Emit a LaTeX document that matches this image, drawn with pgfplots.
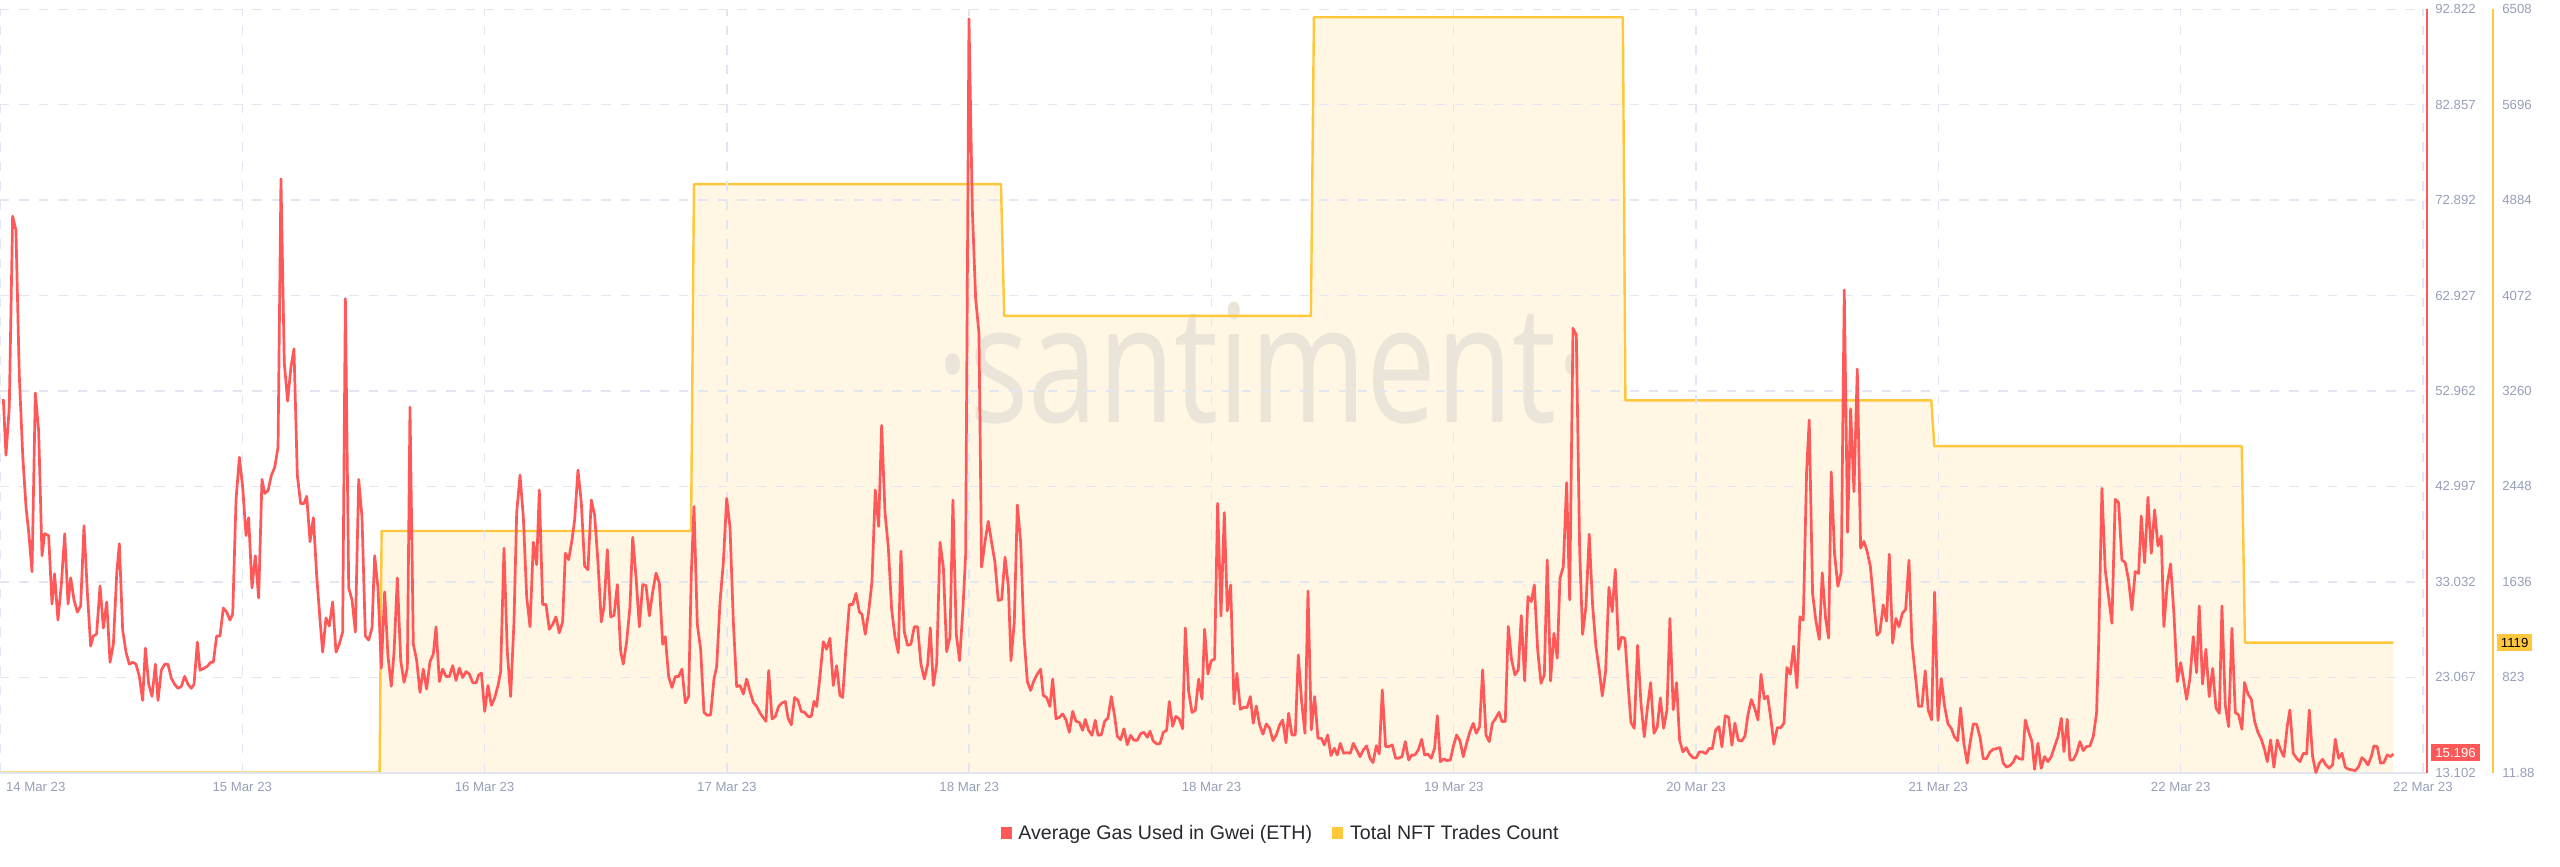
\documentclass[border=0pt]{standalone}
\usepackage{fontspec}
\setmainfont{Liberation Sans}
\newfontfamily\wmfont{Open Sans}
\usepackage{graphicx}
\usepackage{pgfplots}
\pgfplotsset{compat=1.18}
\usetikzlibrary{calc}
\definecolor{redc}{RGB}{255,88,88}
\definecolor{yelc}{RGB}{255,199,60}
\definecolor{creamc}{RGB}{255,246,227}
\definecolor{gridc}{RGB}{226,229,242}
\definecolor{tickc}{RGB}{150,159,184}
\definecolor{basec}{RGB}{226,229,238}
\definecolor{wmc}{RGB}{234,229,216}
\definecolor{legc}{RGB}{40,40,46}
\begin{document}
\begin{tikzpicture}
\pgfplotsset{
  base/.style={scale only axis, width=1213.5pt, height=381.7pt, xmin=0, xmax=240.4,
    clip=false, axis line style={draw=none}, major tick length=0pt, tick style={draw=none},
    tick label style={font=\fontsize{6.6}{8}\selectfont, text=tickc},
    ytick pos=right, yticklabel pos=right},
}
\begin{axis}[base, name=yel, ymin=11.88, ymax=6508, xtick=\empty,
  ytick={11.88,823.895,1635.91,2447.925,3259.94,4071.955,4883.97,5695.985,6508},
  yticklabels={11.88,823,1636,2448,3260,4072,4884,5696,6508},
  yticklabel style={anchor=west, inner sep=0pt, xshift=37.5pt}]
\addplot[fill=creamc, draw=none] coordinates {(37.6,11.88) (37.8,2069) (68.45,2069) (68.74,5020) (99.15,5020) (99.47,3899) (129.85,3899) (130.15,6440) (160.75,6440) (161.0,3180) (191.3,3180) (191.6,2791) (222.05,2791) (222.37,1119) (237.06,1119) (237.06,11.88)};
\node[anchor=base, text=wmc, inner sep=0pt] at (axis cs:125.1,2996) {\scalebox{0.76}[1]{\wmfont\fontsize{82}{82}\selectfont ·santiment·}};
\addplot[yelc, line width=1.2pt, line join=round] coordinates {(0,11.88) (37.6,11.88) (37.8,2069) (68.45,2069) (68.74,5020) (99.15,5020) (99.47,3899) (129.85,3899) (130.15,6440) (160.75,6440) (161.0,3180) (191.3,3180) (191.6,2791) (222.05,2791) (222.37,1119) (237.06,1119)};
\draw[yelc, line width=1pt] ([xshift=33pt]rel axis cs:1,0) -- ([xshift=33pt]rel axis cs:1,1);
\node[fill=yelc, text=black, inner xsep=1.8pt, inner ysep=2pt, anchor=west, font=\fontsize{6.6}{8}\selectfont] at ([xshift=35pt]axis cs:240.4,1119) {1119};
\end{axis}
\begin{axis}[base, name=main, ymin=13.102, ymax=92.822,
  xtick={0,24,...,240},
  xticklabels={{\makebox[0pt][l]{\hspace*{3pt}14 Mar 23}},15 Mar 23,16 Mar 23,17 Mar 23,18 Mar 23,18 Mar 23,19 Mar 23,20 Mar 23,21 Mar 23,22 Mar 23,22 Mar 23},
  xticklabel style={anchor=center, inner sep=0pt, yshift=-7pt},
  ytick={13.102,23.067,33.032,42.997,52.962,62.927,72.892,82.857,92.822},
  yticklabels={13.102,23.067,33.032,42.997,52.962,62.927,72.892,82.857,92.822},
  yticklabel style={anchor=west, inner sep=0pt, xshift=4pt},
  grid=major, major grid style={gridc, line width=0.7pt, dash pattern=on 4.7pt off 5pt}]
\draw[basec, line width=1pt] (rel axis cs:0,0) -- (rel axis cs:1,0);
\draw[redc, line width=1pt] (rel axis cs:1,0) -- (rel axis cs:1,1);
\addplot[redc, line width=1.35pt, line join=round] coordinates {
(0.33,52.12) (0.59,46.25) (0.92,51.28) (1.25,71.21) (1.58,69.74) (1.91,54.64) (2.25,46.25) (2.58,40.79) (2.84,38.27) (3.17,34.08) (3.50,52.75) (3.83,48.76) (4.16,35.76) (4.42,38.06) (4.82,37.86) (5.15,30.72) (5.41,33.87) (5.74,29.04) (6.08,32.82) (6.41,38.06) (6.74,30.72) (7.00,33.45) (7.33,31.14) (7.66,29.88) (7.99,30.51) (8.32,38.90) (8.65,31.98) (8.98,26.32) (9.24,27.37) (9.57,27.58) (9.91,32.61) (10.24,28.21) (10.57,30.93) (10.90,24.64) (11.23,26.53) (11.56,33.87) (11.82,37.02) (12.15,28.00) (12.48,25.69) (12.81,24.43) (13.14,24.64) (13.47,24.43) (13.80,23.17) (14.13,20.65) (14.40,26.11) (14.73,22.33) (15.06,21.07) (15.39,24.43) (15.65,20.65) (15.98,23.80) (16.31,24.43) (16.64,24.43) (16.97,22.96) (17.30,22.33) (17.63,21.91) (17.96,22.12) (18.29,23.17) (18.62,22.33) (18.95,21.91) (19.22,22.33) (19.55,26.74) (19.81,23.80) (20.21,24.01) (20.54,24.22) (20.87,24.64) (21.13,24.64) (21.46,27.37) (21.79,27.37) (22.12,30.30) (22.45,29.88) (22.78,29.04) (23.05,29.67) (23.38,41.63) (23.71,46.04) (24.04,42.89) (24.37,37.86) (24.63,39.74) (24.96,32.40) (25.29,35.76) (25.62,31.35) (25.95,43.73) (26.22,42.26) (26.55,42.55) (26.88,44.15) (27.21,44.99) (27.54,47.08) (27.83,75.11) (28.16,55.89) (28.49,51.91) (28.82,55.47) (29.12,57.36) (29.45,44.15) (29.78,41.21) (30.11,41.21) (30.38,41.97) (30.71,37.23) (31.04,39.74) (31.37,33.66) (31.70,29.04) (31.96,25.69) (32.29,29.26) (32.62,28.42) (32.95,30.93) (33.28,25.69) (33.61,26.53) (33.94,27.79) (34.21,62.61) (34.54,32.40) (34.87,31.14) (35.20,27.79) (35.53,43.73) (35.86,39.74) (36.19,27.37) (36.52,26.95) (36.85,28.21) (37.11,35.76) (37.44,32.40) (37.77,24.01) (38.10,31.98) (38.43,25.27) (38.76,22.12) (39.03,25.69) (39.36,33.45) (39.69,24.85) (40.02,22.54) (40.35,24.01) (40.61,51.28) (40.94,26.53) (41.27,24.85) (41.60,21.49)
(41.93,23.92) (42.26,21.84) (42.59,24.70) (42.92,25.48) (43.19,28.34) (43.52,22.62) (43.85,23.92) (44.18,23.14) (44.51,23.14) (44.84,24.28) (45.17,22.73) (45.50,24.03) (45.83,23.04) (46.16,23.66) (46.49,23.40) (46.82,22.52) (47.15,22.47) (47.41,23.30) (47.68,23.51) (48.01,19.50) (48.34,22.21) (48.67,20.13) (49.00,20.91) (49.33,22.21) (49.59,23.66) (49.92,36.54) (50.25,25.74) (50.58,21.06) (50.91,28.85) (51.18,40.28) (51.51,44.18) (51.84,39.76) (52.17,31.45) (52.50,28.34) (52.83,37.17) (53.16,34.83) (53.42,42.62) (53.75,30.67) (54.08,30.67) (54.41,28.08) (54.74,28.59) (55.07,29.37) (55.40,27.71) (55.73,28.85) (56.00,36.02) (56.33,35.35) (56.66,37.43) (56.92,39.50) (57.25,44.70) (57.58,41.32) (57.91,34.67) (58.24,34.31) (58.57,41.58) (58.90,40.02) (59.23,35.09) (59.56,28.85) (59.83,30.41) (60.16,36.39) (60.49,29.37) (60.82,29.53) (61.15,32.75) (61.48,25.74) (61.74,24.44) (62.07,26.78) (62.40,30.41) (62.67,37.69) (63.00,33.53) (63.33,28.34) (63.66,32.75) (63.99,32.65) (64.32,29.48) (64.65,31.97) (64.98,33.95) (65.31,32.91) (65.64,26.52) (65.90,27.30) (66.23,23.14) (66.56,22.00) (66.89,23.14) (67.22,23.14) (67.55,23.92) (67.88,20.39) (68.21,21.06) (68.48,34.05) (68.74,40.91) (69.07,28.59) (69.40,26.00) (69.73,19.40) (70.06,19.09) (70.39,19.14) (70.72,22.88) (70.99,24.18) (71.32,30.93) (71.65,35.09) (71.98,41.74) (72.31,38.73) (72.64,28.85) (72.97,22.10) (73.30,22.21) (73.63,21.32) (73.96,22.88) (74.29,21.58) (74.62,20.44) (74.95,20.02) (75.28,19.35) (75.61,18.83) (75.87,18.47) (76.14,23.77) (76.47,18.72) (76.80,18.98) (77.13,20.02) (77.46,20.39) (77.79,20.54) (78.05,18.83) (78.38,18.10) (78.71,20.96) (79.04,20.65) (79.37,19.50) (79.70,19.40) (80.03,18.98) (80.36,18.98) (80.63,20.54) (80.89,20.02) (81.22,23.14)
(81.55,26.78) (81.88,26.00) (82.21,27.14) (82.54,22.21) (82.87,24.28) (83.20,21.17) (83.47,20.96) (83.80,26.26) (84.13,30.67) (84.46,30.67) (84.79,31.82) (85.12,29.89) (85.38,29.64) (85.71,27.56) (86.04,29.89) (86.37,33.01) (86.70,42.62) (87.03,38.83) (87.33,49.38) (87.66,40.28) (87.99,36.65) (88.32,30.15) (88.65,27.30) (88.98,25.63) (89.24,36.23) (89.57,27.82) (89.90,26.41) (90.23,26.52) (90.56,28.34) (90.89,28.34) (91.22,24.44) (91.56,22.88) (91.89,24.44) (92.15,28.23) (92.45,22.21) (92.78,24.44) (93.11,37.17) (93.44,34.57) (93.77,25.74) (94.10,27.30) (94.39,41.58) (94.72,27.56) (95.05,24.80) (95.39,30.41) (95.65,35.87) (95.98,91.82) (96.31,71.97) (96.64,62.62) (96.97,58.99) (97.23,34.57) (97.56,37.17) (97.89,39.35) (98.22,37.17) (98.55,35.09) (98.88,31.09) (99.22,31.19) (99.55,35.61) (99.88,32.59) (100.14,24.80) (100.47,28.85) (100.77,41.06) (101.10,37.17) (101.43,27.30) (101.76,22.62) (102.09,21.69) (102.42,22.73) (102.75,23.40) (103.08,23.92) (103.34,21.17) (103.67,20.96) (104.00,20.02) (104.27,22.88) (104.60,18.72) (104.93,18.88) (105.26,19.24) (105.59,18.62) (105.92,17.32) (106.25,19.50) (106.58,18.47) (106.91,18.36) (107.24,17.53) (107.50,18.67) (107.83,17.53) (108.16,17.01) (108.49,18.57) (108.76,17.01) (109.09,17.06) (109.42,18.47) (109.75,18.83) (110.08,21.06) (110.41,18.98) (110.67,16.91) (111.00,16.54) (111.33,17.69) (111.66,16.02) (111.99,17.01) (112.32,16.49) (112.65,16.49) (112.98,17.17) (113.31,17.32) (113.64,16.80) (113.91,17.43) (114.24,16.39) (114.57,16.13) (114.90,16.13) (115.23,17.32) (115.56,17.53) (115.82,20.54) (116.15,17.95) (116.48,18.98) (116.81,18.72) (117.14,17.69) (117.41,28.23) (117.74,21.58) (118.07,19.40) (118.40,19.61) (118.73,22.88) (119.06,20.80) (119.32,28.08) (119.65,23.40) (119.98,24.80) (120.31,24.96)
(120.61,41.23) (120.94,29.47) (121.27,40.26) (121.57,29.99) (121.90,32.71) (122.23,20.28) (122.52,23.48) (122.86,19.72) (123.19,19.93) (123.52,19.90) (123.85,21.05) (124.14,18.26) (124.44,20.07) (124.77,18.09) (125.10,17.12) (125.43,18.19) (125.76,17.74) (126.09,16.45) (126.42,17.04) (126.75,18.09) (127.05,18.61) (127.38,16.24) (127.64,19.31) (127.97,17.04) (128.30,17.04) (128.60,25.40) (128.93,20.52) (129.26,17.22) (129.56,32.08) (129.89,17.57) (130.22,21.05) (130.55,16.70) (130.88,16.70) (131.18,16.00) (131.51,17.04) (131.84,14.89) (132.17,15.65) (132.46,14.96) (132.76,16.17) (133.09,15.13) (133.42,15.20) (133.75,15.13) (134.05,16.17) (134.38,15.48) (134.71,14.78) (135.04,15.48) (135.37,15.90) (135.70,14.61) (136.00,14.16) (136.33,15.93) (136.62,15.06) (136.92,21.74) (137.25,15.83) (137.58,15.83) (137.91,16.00) (138.24,14.61) (138.54,14.61) (138.87,14.78) (139.20,16.35) (139.53,14.43) (139.86,14.96) (140.16,14.96) (140.49,15.48) (140.82,16.59) (141.11,14.96) (141.44,15.06) (141.77,14.61) (142.10,15.65) (142.37,19.06) (142.67,14.26) (143.00,14.54) (143.33,14.36) (143.66,14.43) (143.95,15.83) (144.28,17.04) (144.61,16.45) (144.94,14.78) (145.27,16.17) (145.60,17.39) (145.93,18.26) (146.23,17.22) (146.56,17.91) (146.86,23.83) (147.19,17.04) (147.52,16.35) (147.82,18.26) (148.15,18.78) (148.48,19.41) (148.77,18.44) (149.10,18.44) (149.40,28.36) (149.73,24.88) (150.06,23.31) (150.39,23.83) (150.69,29.51) (151.02,22.68) (151.35,31.49) (151.68,30.97) (151.98,32.71) (152.31,25.92) (152.64,22.44) (152.97,23.31) (153.26,35.32) (153.59,22.68) (153.92,27.66) (154.25,25.05) (154.52,33.40) (154.85,34.62) (155.18,43.39) (155.48,31.14) (155.81,59.51) (156.14,58.81) (156.47,36.36) (156.76,27.56) (157.09,30.44) (157.42,38.00) (157.75,30.62) (158.08,26.27) (158.41,23.83) (158.71,21.12) (159.04,23.66) (159.37,32.46) (159.70,29.92) (160.00,34.34) (160.33,25.99)
(160.63,27.27) (160.96,27.09) (161.29,21.97) (161.55,18.34) (161.88,17.74) (162.21,26.39) (162.54,20.39) (162.87,16.85) (163.20,20.03) (163.50,22.50) (163.83,17.21) (164.16,17.91) (164.46,20.91) (164.79,17.74) (165.12,19.68) (165.41,29.21) (165.74,19.68) (166.07,22.50) (166.37,16.50) (166.70,15.27) (167.03,15.72) (167.36,15.02) (167.69,14.67) (167.99,14.63) (168.32,15.27) (168.65,15.27) (168.98,15.09) (169.28,15.62) (169.61,15.62) (169.94,17.56) (170.27,17.91) (170.56,15.80) (170.89,19.04) (171.22,18.90) (171.55,15.97) (171.85,18.27) (172.18,16.50) (172.51,16.40) (172.84,16.92) (173.14,19.15) (173.47,20.74) (173.80,19.85) (174.13,18.62) (174.43,23.38) (174.76,20.81) (175.09,21.09) (175.42,18.62) (175.71,16.08) (176.05,17.81) (176.38,17.81) (176.71,18.27) (177.00,24.09) (177.33,23.38) (177.66,26.31) (177.99,21.97) (178.29,29.39) (178.62,29.03) (178.95,44.57) (179.21,49.93) (179.54,31.86) (179.87,28.93) (180.21,27.02) (180.50,33.97) (180.83,29.21) (181.13,27.16) (181.39,44.50) (181.72,35.92) (182.05,32.56) (182.38,34.05) (182.68,63.52) (183.01,38.21) (183.31,51.10) (183.64,42.45) (183.97,55.26) (184.30,36.55) (184.63,37.26) (184.93,36.27) (185.26,34.68) (185.59,30.98) (185.92,27.45) (186.21,27.80) (186.54,30.62) (186.87,28.93) (187.14,35.92) (187.47,26.63) (187.80,29.21) (188.10,28.33) (188.43,29.74) (188.76,30.16) (189.09,35.28) (189.38,26.74) (189.71,23.38) (190.04,20.03) (190.37,20.03) (190.70,23.74) (191.00,19.61) (191.33,18.62) (191.63,31.96) (191.96,18.55) (192.29,22.93) (192.62,20.03) (192.95,18.20) (193.28,17.74) (193.58,16.85) (193.91,16.43) (194.20,19.86) (194.53,16.15) (194.86,14.10) (195.13,16.15) (195.46,18.20) (195.79,18.16) (196.12,16.85) (196.45,14.56) (196.78,14.56) (197.11,15.27) (197.44,15.55) (197.77,15.62) (198.10,15.73) (198.43,14.10) (198.76,13.68) (199.09,13.85) (199.42,14.21) (199.69,14.84) (200.02,14.56)
(200.35,14.50) (200.61,18.61) (200.94,17.39) (201.27,16.35) (201.53,13.46) (201.86,16.17) (202.19,13.56) (202.52,14.78) (202.85,14.26) (203.18,14.78) (203.51,15.83) (203.85,16.87) (204.18,18.78) (204.44,15.30) (204.77,18.68) (205.03,14.43) (205.36,14.43) (205.69,15.13) (206.02,16.35) (206.35,15.41) (206.68,15.83) (207.01,15.90) (207.34,16.87) (207.67,19.31) (207.87,26.27) (208.20,42.80) (208.53,34.27) (208.86,31.49) (209.19,28.70) (209.52,41.65) (209.85,41.30) (210.18,35.32) (210.51,35.04) (210.84,33.23) (211.17,30.10) (211.50,34.10) (211.84,33.92) (212.10,39.91) (212.43,35.04) (212.76,41.86) (213.09,36.01) (213.42,40.54) (213.75,36.78) (214.08,37.82) (214.34,28.36) (214.67,32.81) (215.00,34.90) (215.33,29.75) (215.67,22.61) (216.00,24.60) (216.26,22.96) (216.59,20.77) (216.92,22.96) (217.25,27.31) (217.58,23.55) (217.84,30.51) (218.17,22.37) (218.50,25.99) (218.83,21.05) (219.17,24.00) (219.50,19.83) (219.83,19.31) (220.09,30.51) (220.42,20.17) (220.75,17.91) (221.08,28.18) (221.41,19.38) (221.74,19.13) (222.07,17.64) (222.33,22.51) (222.66,21.33) (223.00,20.77) (223.33,18.44) (223.66,17.29) (223.99,16.59) (224.32,15.48) (224.58,14.26) (224.91,16.52) (225.24,13.67) (225.57,16.52) (225.90,15.48) (226.23,14.78) (226.56,17.98) (226.82,19.65) (227.15,15.13) (227.48,14.61) (227.82,14.26) (228.15,15.13) (228.48,15.06) (228.74,19.65) (229.07,14.78) (229.40,13.11) (229.73,14.09) (230.06,14.50) (230.39,13.91) (230.72,13.56) (231.05,13.91) (231.32,16.59) (231.65,14.61) (231.98,15.13) (232.31,13.67) (232.64,13.46) (232.97,13.39) (233.30,13.32) (233.63,13.74) (233.96,14.68) (234.22,14.43) (234.55,13.91) (234.88,14.78) (235.14,15.90) (235.47,15.83) (235.80,14.09) (236.13,14.16) (236.46,14.96) (236.79,14.78) (237.06,15.06)
};
\node[fill=redc, text=white, inner xsep=2pt, inner ysep=2pt, anchor=west, font=\fontsize{6.6}{8}\selectfont] at ([xshift=2pt]axis cs:240.4,15.196) {15.196};
\node[anchor=center, inner sep=0pt, text=legc, font=\fontsize{9.8}{12}\selectfont] at (axis description cs:0.5274,-0.0803) {{\color{redc}\rule[-0.2pt]{5.5pt}{6.2pt}}\hspace{3pt}Average Gas Used in Gwei (ETH)\hspace{10pt}{\color{yelc}\rule[-0.2pt]{5.5pt}{6.2pt}}\hspace{3.5pt}Total NFT Trades Count};
\end{axis}
\pgfresetboundingbox
\path[use as bounding box] ($(main.south west)+(0pt,-47.15pt)$) rectangle ($(main.south west)+(1280pt,386.35pt)$);
\end{tikzpicture}
\end{document}
